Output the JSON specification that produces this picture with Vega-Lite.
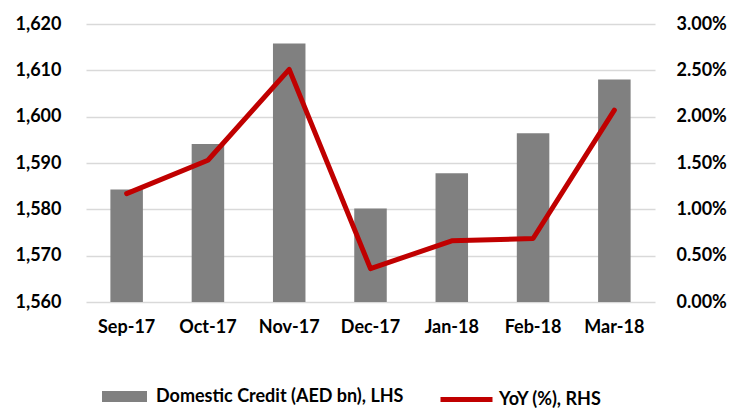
{
  "$schema": "https://vega.github.io/schema/vega-lite/v6.json",
  "width": 569,
  "height": 278,
  "autosize": "none",
  "padding": {"left": 86, "top": 24, "right": 77, "bottom": 107},
  "config": {
    "font": "Lato",
    "view": {"stroke": null},
    "axis": {"labelFont": "Lato", "labelFontWeight": "bold", "labelFontSize": 18, "labelColor": "#000000"},
    "legend": {"labelFont": "Lato", "labelFontWeight": "bold", "labelFontSize": 18, "labelColor": "#000000", "labelLimit": 400}
  },
  "data": {
    "values": [
      {"month": "Sep-17", "credit": 1584.3, "yoy": 0.0117},
      {"month": "Oct-17", "credit": 1594.1, "yoy": 0.0153},
      {"month": "Nov-17", "credit": 1615.8, "yoy": 0.0251},
      {"month": "Dec-17", "credit": 1580.2, "yoy": 0.0036},
      {"month": "Jan-18", "credit": 1587.8, "yoy": 0.0066},
      {"month": "Feb-18", "credit": 1596.4, "yoy": 0.00685},
      {"month": "Mar-18", "credit": 1608.0, "yoy": 0.0207}
    ]
  },
  "encoding": {
    "x": {
      "field": "month", "type": "ordinal", "sort": null,
      "scale": {"paddingInner": 0.6, "paddingOuter": 0.3},
      "axis": {"title": null, "labelAngle": 0, "domain": false, "ticks": false, "labelPadding": 16}
    }
  },
  "layer": [
    {
      "mark": {"type": "bar", "color": "#808080", "clip": true},
      "encoding": {
        "y": {
          "field": "credit", "type": "quantitative",
          "scale": {"domain": [1560, 1620], "zero": false, "nice": false},
          "axis": {"title": null, "format": ",d", "values": [1560, 1570, 1580, 1590, 1600, 1610, 1620], "grid": true, "gridColor": "#D9D9D9", "gridWidth": 1.3, "domain": false, "ticks": false, "labelPadding": 25}
        },
        "color": {
          "datum": "Domestic Credit (AED bn), LHS",
          "scale": {"range": ["#808080"]},
          "legend": {"orient": "none", "legendX": 16, "legendY": 350, "title": null, "symbolType": "M-1,-0.245H1V0.245H-1Z", "symbolSize": 2025, "symbolStrokeWidth": 0, "labelOffset": 9}
        }
      }
    },
    {
      "mark": {"type": "line", "color": "#C00000", "strokeWidth": 5, "strokeJoin": "round", "strokeCap": "round"},
      "encoding": {
        "y": {
          "field": "yoy", "type": "quantitative",
          "scale": {"domain": [0, 0.03], "nice": false},
          "axis": {"title": null, "orient": "right", "format": ".2%", "values": [0, 0.005, 0.01, 0.015, 0.02, 0.025, 0.03], "grid": false, "domain": false, "ticks": false, "labelPadding": 21}
        },
        "color": {
          "datum": "YoY (%), RHS",
          "scale": {"range": ["#C00000"]},
          "legend": {"orient": "none", "legendX": 352, "legendY": 347, "title": null, "symbolType": "stroke", "symbolSize": 2704, "symbolStrokeWidth": 5, "labelOffset": 4}
        }
      }
    }
  ],
  "resolve": {"scale": {"y": "independent", "color": "independent"}}
}
